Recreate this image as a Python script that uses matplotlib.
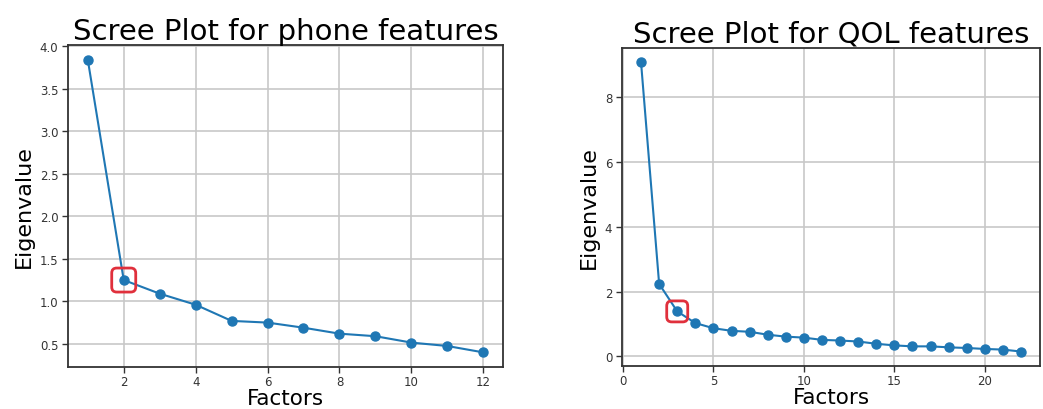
import matplotlib
matplotlib.use("Agg")
import matplotlib.pyplot as plt
from matplotlib.patches import FancyBboxPatch
from matplotlib.transforms import ScaledTranslation

phone_factors = list(range(1, 13))
phone_eigen = [3.84, 1.25, 1.09, 0.96, 0.77, 0.75, 0.69, 0.62, 0.59, 0.515, 0.475, 0.40]
phone_elbow = 2

qol_factors = list(range(1, 23))
qol_eigen = [9.08, 2.24, 1.39, 1.03, 0.87, 0.79, 0.76, 0.67, 0.61, 0.58, 0.51, 0.49,
             0.46, 0.39, 0.34, 0.31, 0.31, 0.28, 0.26, 0.23, 0.21, 0.15]
qol_elbow = 3

phone_xticks = [2, 4, 6, 8, 10, 12]
phone_yticks = [0.5, 1.0, 1.5, 2.0, 2.5, 3.0, 3.5, 4.0]
qol_xticks = [0, 5, 10, 15, 20]
qol_yticks = [0, 2, 4, 6, 8]

fig = plt.figure(figsize=(10.43, 4.10), dpi=100)
ax1 = fig.add_axes([0.0652, 0.1024, 0.4171, 0.7854])
ax2 = fig.add_axes([0.5964, 0.1049, 0.4007, 0.7756])

def draw(ax, xs, ys, elbow, title, xticks, yticks, box_px):
    ax.plot(xs, ys, '-o', color='#1f77b4', lw=1.5, ms=6.5)
    ax.set_xticks(xticks)
    ax.set_yticks(yticks)
    ax.grid(True, color='#c8c8c8', lw=1.2)
    ax.set_axisbelow(True)
    ax.set_title(title, fontsize=21, pad=1)
    ax.set_xlabel('Factors', fontsize=15.5, labelpad=0)
    ax.set_ylabel('Eigenvalue', fontsize=16)
    ax.tick_params(axis='y', pad=3)
    ax.tick_params(axis='x', pad=2)
    ax.tick_params(labelsize=8.5, labelcolor='#333333', length=4, width=1, color='#333333')
    for s in ax.spines.values():
        s.set_linewidth(1.3)
        s.set_color('#333333')
    w = box_px / 100.0
    xi = xs.index(elbow)
    tr = fig.dpi_scale_trans + ScaledTranslation(xs[xi], ys[xi], ax.transData)
    p = FancyBboxPatch((-w / 2, -w / 2), w, w,
                       boxstyle='round,pad=0,rounding_size=0.05',
                       fc='none', ec='#e0303c', lw=2.0, transform=tr, zorder=5)
    ax.add_patch(p)

draw(ax1, phone_factors, phone_eigen, phone_elbow, 'Scree Plot for phone features',
     phone_xticks, phone_yticks, 24)
draw(ax2, qol_factors, qol_eigen, qol_elbow, 'Scree Plot for QOL features',
     qol_xticks, qol_yticks, 21)

fig.savefig('out.png', dpi=100)
